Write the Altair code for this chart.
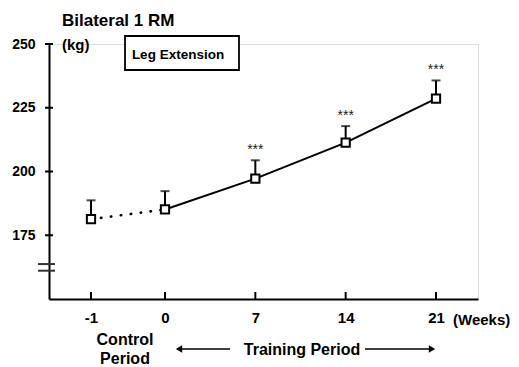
import altair as alt
import pandas as pd

# Bilateral 1 RM, leg extension, mean with upper SE bar
weeks = [-1, 0, 7, 14, 21]
mean_1rm = [181.3, 185.1, 197.2, 211.3, 228.6]
upper_1rm = [188.7, 192.3, 204.4, 217.8, 235.7]
significance = ["", "", "***", "***", "***"]
y_ticks = [175, 200, 225, 250]
break_marks = [163.7, 161.1]

FONT = "Liberation Sans"
W, H = 429, 255

df = pd.DataFrame({"week": weeks, "mean": mean_1rm, "upper": upper_1rm, "sig": significance})

# weeks 0..21 linear, control week compressed to its own segment
x_scale = alt.Scale(domain=[-4.2, -1, 0, 21, 24.3], range=[0, 42, 116, 387, 429],
                    zero=False, nice=False)
y_scale = alt.Scale(domain=[150, 250], zero=False, nice=False)

x_axis = alt.Axis(values=weeks, labelExpr="'' + datum.value", tickSize=0, labelPadding=11,
                  labelFont=FONT, labelFontSize=15, labelFontWeight="bold", labelColor="black",
                  domainColor="black", domainWidth=2, grid=False, title=None, labelFlush=False)
y_axis = alt.Axis(values=y_ticks, tickSize=0, labelPadding=14,
                  labelFont=FONT, labelFontSize=14, labelFontWeight="bold", labelColor="black",
                  domainColor="black", domainWidth=2, grid=False, title=None)

base = alt.Chart(df)
X = alt.X("week:Q", scale=x_scale, axis=x_axis)
Y = alt.Y("mean:Q", scale=y_scale, axis=y_axis)

control_line = base.transform_filter("datum.week <= 0").mark_line(
    color="black", strokeWidth=2.6, strokeDash=[0.5, 9.5], strokeCap="round"
).encode(x=X, y=Y)

training_line = base.transform_filter("datum.week >= 0").mark_line(
    color="black", strokeWidth=2
).encode(x=X, y=Y)

err_bar = base.mark_rule(color="black", strokeWidth=2).encode(
    x="week:Q", y="mean:Q", y2="upper:Q")
err_cap = base.mark_tick(color="black", orient="horizontal", size=9, thickness=2).encode(
    x="week:Q", y="upper:Q")

squares = base.mark_point(shape="square", filled=True, fill="white", stroke="black",
                          strokeWidth=2, size=68, opacity=1).encode(x="week:Q", y="mean:Q")

stars = base.mark_text(font=FONT, fontSize=14, color="#222", dy=-10).encode(
    x="week:Q", y="upper:Q", text="sig:N")

# inward x ticks and crossing y ticks
x_ticks = base.mark_rule(color="black", strokeWidth=2).encode(
    x="week:Q", y=alt.value(H), y2=alt.value(H - 7))
y_tick_marks = alt.Chart(pd.DataFrame({"v": y_ticks})).mark_rule(
    color="black", strokeWidth=2).encode(y="v:Q", x=alt.value(-4), x2=alt.value(4))
breaks = alt.Chart(pd.DataFrame({"v": break_marks})).mark_rule(
    color="#333", strokeWidth=2).encode(y="v:Q", x=alt.value(-11), x2=alt.value(6))


def label(text, x, y, size, align="left", weight="bold"):
    return alt.Chart(pd.DataFrame({"t": [text]})).mark_text(
        font=FONT, fontSize=size, fontWeight=weight, align=align, baseline="alphabetic",
        color="black"
    ).encode(x=alt.value(x), y=alt.value(y), text="t:N")


legend_box = alt.Chart(pd.DataFrame({"t": ["box"]})).mark_rect(
    fill="white", stroke="black", strokeWidth=1.8
).encode(x=alt.value(76), x2=alt.value(190), y=alt.value(-8), y2=alt.value(26))

arrow_lines = alt.Chart(pd.DataFrame({"t": ["l"]})).mark_rule(
    color="black", strokeWidth=1.5).encode(x=alt.value(130), x2=alt.value(181), y=alt.value(305)) + \
    alt.Chart(pd.DataFrame({"t": ["r"]})).mark_rule(
    color="black", strokeWidth=1.5).encode(x=alt.value(316), x2=alt.value(382), y=alt.value(305))
arrow_heads = alt.Chart(pd.DataFrame({"t": ["l"]})).mark_point(
    shape="triangle-left", filled=True, color="black", size=55, opacity=1
).encode(x=alt.value(130), y=alt.value(305)) + alt.Chart(pd.DataFrame({"t": ["r"]})).mark_point(
    shape="triangle-right", filled=True, color="black", size=55, opacity=1
).encode(x=alt.value(383), y=alt.value(305))

chart = alt.layer(
    control_line, training_line, err_bar, err_cap, squares, stars,
    x_ticks, y_tick_marks, breaks,
    label("Bilateral 1 RM", 13, -18, 17),
    label("(kg)", 13, 6, 15),
    legend_box,
    label("Leg Extension", 129, 15, 13.5, align="center"),
    label("(Weeks)", 404, 281, 15),
    label("Control", 76, 301, 16, align="center"),
    label("Period", 76, 320, 16, align="center"),
    label("Training Period", 253, 311, 16, align="center"),
    arrow_lines, arrow_heads,
).properties(
    width=W, height=H,
    autosize=alt.AutoSizeParams(type="none"),
    padding={"left": 49, "top": 44, "right": 41, "bottom": 68},
).configure_view(stroke=None).configure(background="white")

chart.save("out.html", embed_options={"renderer": "svg", "actions": False})
